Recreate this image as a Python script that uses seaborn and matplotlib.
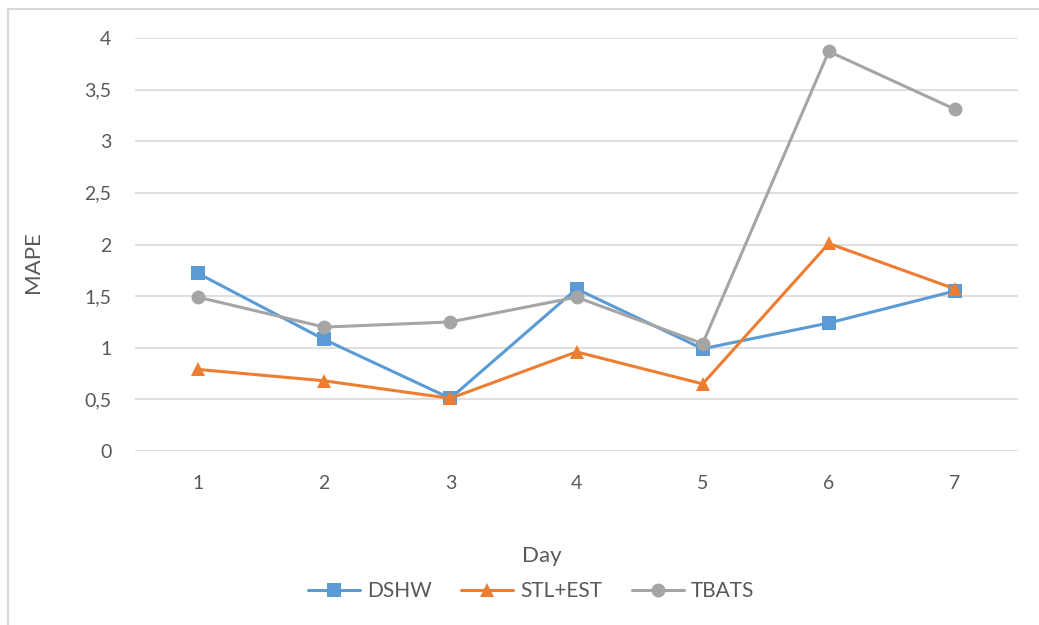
import matplotlib
matplotlib.use("Agg")
import matplotlib.pyplot as plt
from matplotlib.lines import Line2D
from matplotlib.ticker import FuncFormatter
import pandas as pd
import seaborn as sns

# MAPE per forecast day for each model
days = [1, 2, 3, 4, 5, 6, 7]
dshw = [1.72, 1.08, 0.51, 1.57, 0.99, 1.24, 1.55]
stl_est = [0.79, 0.68, 0.51, 0.96, 0.65, 2.01, 1.57]
tbats = [1.49, 1.20, 1.25, 1.49, 1.04, 3.87, 3.31]
series_names = ["DSHW", "STL+EST", "TBATS"]
y_ticks = [0, 0.5, 1, 1.5, 2, 2.5, 3, 3.5, 4]

colors = {"DSHW": "#5B9BD5", "STL+EST": "#ED7D31", "TBATS": "#A5A5A5"}
markers = {"DSHW": "s", "STL+EST": "^", "TBATS": "o"}
text_color = "#595959"
grid_color = "#D9D9D9"

df = pd.DataFrame({
    "Day": days * 3,
    "MAPE": dshw + stl_est + tbats,
    "Model": [n for n in series_names for _ in days],
})

sns.set_theme(style="white")
plt.rcParams["font.family"] = ["Lato", "DejaVu Sans"]

fig = plt.figure(figsize=(10.39, 6.25), dpi=100)
fig.patch.set_facecolor("white")
ax = fig.add_axes([135 / 1039, 1 - 451 / 625, (1018 - 135) / 1039, (451 - 38) / 625])

sns.lineplot(
    data=df, x="Day", y="MAPE", hue="Model", style="Model",
    palette=colors, markers=markers, dashes=False,
    linewidth=2.2, markersize=10, markeredgewidth=0,
    legend=False, ax=ax, zorder=3,
)

ax.set_xlim(0.5, 7.5)
ax.set_ylim(0, 4)
ax.set_xticks(days)
ax.set_yticks(y_ticks)
ax.yaxis.set_major_formatter(FuncFormatter(lambda v, _: f"{v:g}".replace(".", ",")))
ax.grid(axis="y", color=grid_color, linewidth=1.2, zorder=0)
ax.grid(axis="x", visible=False)
for s in ax.spines.values():
    s.set_visible(False)
ax.tick_params(axis="both", length=0, labelsize=14, colors=text_color)
ax.tick_params(axis="y", pad=17)
ax.tick_params(axis="x", pad=17)
ax.set_xlabel("")
ax.set_ylabel("")

fig.text(33 / 1039, 1 - 262 / 625, "MAPE", rotation=90, ha="center", va="center",
         fontsize=16, color=text_color)
fig.text(542 / 1039, 1 - 556 / 625, "Day", ha="center", va="center",
         fontsize=16, color=text_color)

handles = [
    Line2D([0], [0], color=colors[n], marker=markers[n], linewidth=2.2,
           markersize=10, markeredgewidth=0, label=n)
    for n in series_names
]
fig.legend(handles=handles, loc="center", bbox_to_anchor=(531 / 1039, 1 - 591 / 625),
           ncol=3, frameon=False, fontsize=15, labelcolor=text_color,
           handlelength=2.5, handletextpad=0.35, columnspacing=1.4)

# chart area frame (left and top edges visible)
fig.add_artist(Line2D([8 / 1039, 8 / 1039], [0, 1 - 9 / 625], color=grid_color,
                      linewidth=1.5, transform=fig.transFigure))
fig.add_artist(Line2D([8 / 1039, 1], [1 - 9 / 625, 1 - 9 / 625], color=grid_color,
                      linewidth=1.5, transform=fig.transFigure))

fig.savefig("out.png", dpi=100, facecolor="white")
